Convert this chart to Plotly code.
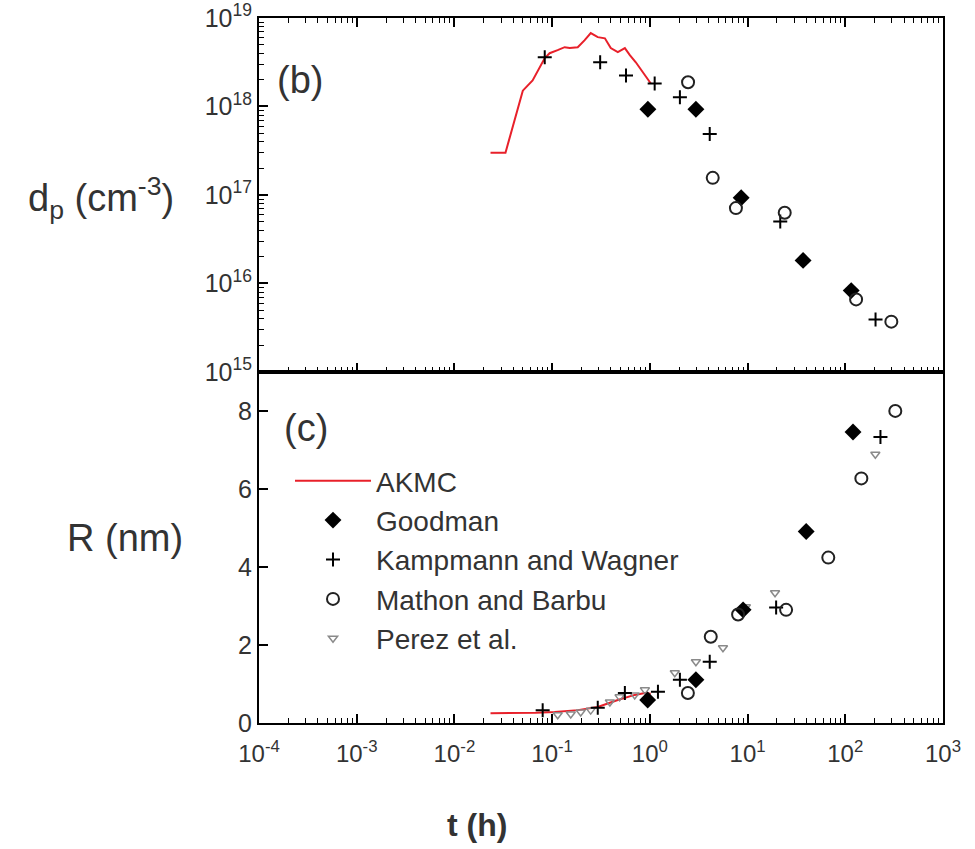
import plotly.graph_objects as go

# ---------------- data ----------------
# AKMC (red line)
akmc_t_top = [0.0234, 0.0333, 0.0501, 0.0631, 0.0838, 0.0942, 0.1138, 0.1343, 0.1514, 0.1828,
              0.2153, 0.2483, 0.2931, 0.3467, 0.398, 0.470, 0.555, 0.624, 0.718, 0.891, 1.023]
akmc_d_top = [3.0e17, 3.0e17, 1.51e18, 1.97e18, 3.51e18, 4.0e18, 4.33e18, 4.68e18, 4.57e18, 4.68e18,
              5.62e18, 6.76e18, 6.08e18, 5.89e18, 4.57e18, 4.11e18, 4.57e18, 3.8e18, 3.16e18, 2.24e18, 1.82e18]
akmc_t_bot = [0.0234, 0.0333, 0.050, 0.068, 0.106, 0.183, 0.293, 0.47, 0.70, 0.89, 1.02]
akmc_R_bot = [0.25, 0.25, 0.25, 0.26, 0.28, 0.33, 0.41, 0.59, 0.72, 0.77, 0.75]

# Goodman
good_t_top = [0.955, 2.96, 8.6, 37, 115]
good_d_top = [9.3e17, 9.3e17, 9.3e16, 1.82e16, 8.3e15]
good_t_bot = [0.95, 2.96, 9.0, 39.8, 120]
good_R_bot = [0.59, 1.11, 2.90, 4.91, 7.46]

# Kampmann and Wagner
kamp_t_top = [0.084, 0.31, 0.57, 1.12, 2.03, 4.1, 21.6, 204]
kamp_d_top = [3.6e18, 3.16e18, 2.24e18, 1.82e18, 1.27e18, 4.9e17, 5.0e16, 3.9e15]
kamp_t_bot = [0.080, 0.293, 0.555, 1.21, 2.03, 4.1, 19.6, 229]
kamp_R_bot = [0.33, 0.39, 0.77, 0.80, 1.11, 1.57, 2.96, 7.33]

# Mathon and Barbu
math_t_top = [2.46, 4.4, 7.6, 24, 129, 296]
math_d_top = [1.88e18, 1.56e17, 7.1e16, 6.3e16, 6.6e15, 3.7e15]
math_t_bot = [2.45, 4.2, 8.0, 24.8, 67, 146, 325]
math_R_bot = [0.77, 2.21, 2.78, 2.90, 4.24, 6.27, 8.0]

# Perez et al.
perez_t_bot = [0.114, 0.155, 0.196, 0.248, 0.39, 0.49, 0.70, 0.89, 1.80, 2.96, 5.6, 9.6, 19.1, 203]
perez_R_bot = [0.21, 0.23, 0.28, 0.33, 0.54, 0.67, 0.72, 0.85, 1.29, 1.57, 1.93, 2.98, 3.34, 6.89]

x_tickvals = [1e-4, 1e-3, 1e-2, 1e-1, 1e0, 1e1, 1e2, 1e3]
x_ticktext = ["10<sup>-4</sup>", "10<sup>-3</sup>", "10<sup>-2</sup>", "10<sup>-1</sup>",
              "10<sup>0</sup>", "10<sup>1</sup>", "10<sup>2</sup>", "10<sup>3</sup>"]
y_tickvals = [1e15, 1e16, 1e17, 1e18, 1e19]
y_ticktext = ["10<sup>15</sup>", "10<sup>16</sup>", "10<sup>17</sup>", "10<sup>18</sup>", "10<sup>19</sup>"]
r_tickvals = [0, 2, 4, 6, 8]

# ---------------- styles ----------------
RED = "#e8202a"
TXT = "#333333"
FONT = "Liberation Sans, Arial, sans-serif"

minor_x = [k * 10.0 ** e for e in range(-4, 3) for k in range(2, 10)]
minor_y = [k * 10.0 ** e for e in range(15, 19) for k in range(2, 10)]

diamond = dict(symbol="diamond", size=13, color="black", line=dict(width=0))
cross = dict(symbol="cross-thin", size=10, color="black", line=dict(width=2, color="black"))
circ = dict(symbol="circle-open", size=12, color="#222222", line=dict(width=2, color="#222222"))
tri = dict(symbol="triangle-down-open", size=8, color="#8a8a8a", line=dict(width=1.5, color="#8a8a8a"))

fig = go.Figure()

# upper panel (x2 / y2)
fig.add_trace(go.Scatter(x=akmc_t_top, y=akmc_d_top, mode="lines", line=dict(color=RED, width=2),
                         xaxis="x2", yaxis="y2", showlegend=False, name="AKMC"))
fig.add_trace(go.Scatter(x=good_t_top, y=good_d_top, mode="markers", marker=diamond,
                         xaxis="x2", yaxis="y2", showlegend=False, name="Goodman"))
fig.add_trace(go.Scatter(x=kamp_t_top, y=kamp_d_top, mode="markers", marker=cross,
                         xaxis="x2", yaxis="y2", showlegend=False, name="Kampmann and Wagner"))
fig.add_trace(go.Scatter(x=math_t_top, y=math_d_top, mode="markers", marker=circ,
                         xaxis="x2", yaxis="y2", showlegend=False, name="Mathon and Barbu"))

# lower panel (x / y)
fig.add_trace(go.Scatter(x=akmc_t_bot, y=akmc_R_bot, mode="lines", line=dict(color=RED, width=2),
                         name="AKMC", legendgroup="a", legendrank=1))
fig.add_trace(go.Scatter(x=perez_t_bot, y=perez_R_bot, mode="markers", marker=tri,
                         name="Perez et al.", legendgroup="e", legendrank=5))
fig.add_trace(go.Scatter(x=good_t_bot, y=good_R_bot, mode="markers", marker=diamond,
                         name="Goodman", legendgroup="b", legendrank=2))
fig.add_trace(go.Scatter(x=kamp_t_bot, y=kamp_R_bot, mode="markers", marker=cross,
                         name="Kampmann and Wagner", legendgroup="c", legendrank=3))
fig.add_trace(go.Scatter(x=math_t_bot, y=math_R_bot, mode="markers", marker=circ,
                         name="Mathon and Barbu", legendgroup="d", legendrank=4))

split = 0.498
axis_common = dict(showline=True, linecolor="black", linewidth=2, ticks="inside",
                   tickcolor="black", tickwidth=1.5, showgrid=False, zeroline=False,
                   automargin=False)


def ann(text, px, py, size, **kw):
    return dict(text=text, x=(px - 259) / 684, y=(723 - py) / 705, xref="paper", yref="paper",
                xanchor="center", yanchor="middle", showarrow=False,
                font=dict(size=size, color=TXT, family=FONT), **kw)


fig.update_layout(
    width=975, height=849,
    margin=dict(l=259, r=32, t=18, b=126),
    paper_bgcolor="white", plot_bgcolor="white",
    font=dict(family=FONT, color=TXT, size=24),
    xaxis=dict(type="log", range=[-4, 3], domain=[0, 1], anchor="y", mirror=True,
               tickmode="array", tickvals=x_tickvals, ticktext=x_ticktext, ticklen=9,
               ticklabelstandoff=8,
               tickfont=dict(size=24, color=TXT),
               minor=dict(tickmode="array", tickvals=minor_x, ticks="inside", ticklen=5,
                          tickcolor="black", tickwidth=1.2, showgrid=False),
               **axis_common),
    yaxis=dict(range=[0, 9], domain=[0, split], anchor="x", mirror=True,
               tickmode="array", tickvals=r_tickvals, ticklen=9,
               tickfont=dict(size=25, color=TXT), **axis_common),
    xaxis2=dict(type="log", range=[-4, 3], domain=[0, 1], anchor="y2", mirror="ticks",
                tickmode="array", tickvals=x_tickvals, showticklabels=False, ticklen=9,
                minor=dict(tickmode="array", tickvals=minor_x, ticks="inside", ticklen=5,
                           tickcolor="black", tickwidth=1.2, showgrid=False),
                **axis_common),
    yaxis2=dict(type="log", range=[15, 19], domain=[split, 1], anchor="x2", mirror=True,
                tickmode="array", tickvals=y_tickvals, ticktext=y_ticktext, ticklen=9,
                tickfont=dict(size=25, color=TXT),
                minor=dict(tickmode="array", tickvals=minor_y, ticks="inside", ticklen=5,
                           tickcolor="black", tickwidth=1.2, showgrid=False),
                **axis_common),
    legend=dict(x=(290 - 259) / 684, y=(723 - 456) / 705, xanchor="left", yanchor="top",
                bgcolor="rgba(0,0,0,0)", borderwidth=0, itemwidth=76,
                font=dict(size=28, color=TXT, family=FONT), tracegroupgap=4,
                traceorder="normal"),
    annotations=[
        ann("d<sub>p</sub> (cm<sup>-3</sup>)", 101, 198, 38),
        ann("R (nm)", 125, 538, 38),
        ann("<b>t (h)</b>", 477, 825, 32),
        ann("(b)", 300, 80, 38),
        ann("(c)", 306, 428, 38),
    ],
)

fig.write_html("out.html")
